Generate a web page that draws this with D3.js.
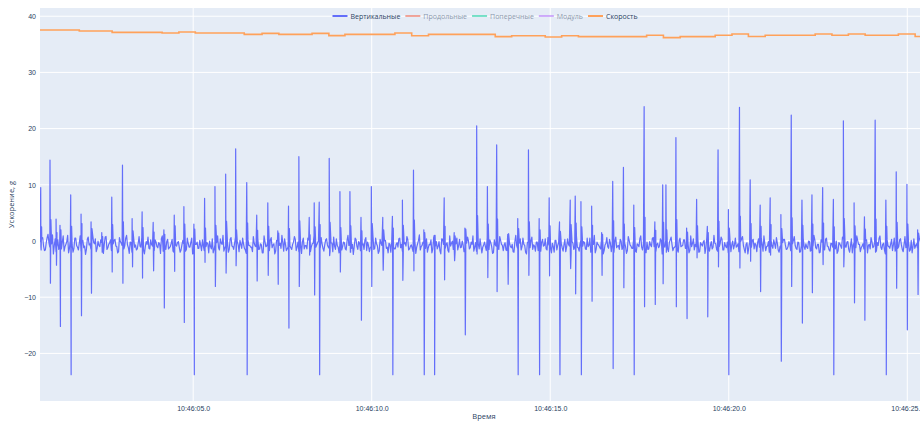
<!DOCTYPE html>
<html>
<head>
<meta charset="utf-8">
<script src="https://cdn.jsdelivr.net/npm/d3@7"></script>
<style>
  html, body { margin: 0; padding: 0; background: #fff; }
  svg { display: block; font-family: "Open Sans", verdana, arial, sans-serif; }
</style>
</head>
<body>
<svg id="chart" width="920" height="422"></svg>
<script>
// ---- data (seconds after 10:46:00) ----
const spikeT = [
  0.73, 0.99, 1.16, 1.27, 1.57, 1.86, 2.14, 2.44, 2.72, 3.02,
  3.29, 3.57, 3.88, 4.18, 4.47, 4.74, 5.02, 5.32, 5.61, 5.91,
  6.19, 6.50, 6.78, 7.09, 7.37, 7.67, 7.96, 8.25, 8.39, 8.53,
  8.81, 9.11, 9.39, 9.70, 9.99, 10.31, 10.58, 10.86, 11.17, 11.46,
  11.75, 12.03, 12.31, 12.61, 12.94, 13.24, 13.50, 13.81, 14.09, 14.39,
  14.69, 14.97, 15.26, 15.56, 15.70, 15.86, 16.16, 16.44, 16.75, 17.05,
  17.34, 17.63, 17.93, 18.15, 18.24, 18.52, 18.82, 19.10, 19.40, 19.70,
  19.99, 20.30, 20.60, 20.88, 21.16, 21.46, 21.75, 22.05, 22.33, 22.63,
  22.93, 23.21, 23.51, 23.80, 24.10, 24.40, 24.69, 24.99, 25.29
];
const spikeHi = [
  9.5, 14.4, 3.9, 2.8, 8.2, 4.8, 3.4, 1.5, 7.8, 13.5,
  4.0, 5.2, 3.3, 2.0, 4.6, 6.1, 3.0, 7.6, 9.7, 11.9,
  16.4, 10.4, 4.6, 6.8, 1.8, 6.2, 15.0, 4.2, 6.8, 6.9,
  14.7, 8.8, 8.8, 4.2, 9.7, 4.2, 4.4, 7.3, 12.6, 2.0,
  1.0, 7.7, 1.5, 2.3, 20.5, 9.7, 17.1, 1.2, 4.0, 16.2,
  4.0, 7.7, 3.4, 7.3, 8.0, 7.0, 6.2, 1.5, 10.6, 13.1,
  6.4, 23.9, 3.4, 10.0, 10.0, 18.4, 2.3, 7.4, 2.6, 16.2,
  5.6, 23.8, 10.9, 6.4, 7.7, 4.7, 22.4, 7.3, 8.2, 9.5,
  7.4, 21.4, 6.8, 4.3, 21.5, 7.3, 12.3, 10.1, 2.0
];
const spikeLo = [
  -1.6, -7.5, -4.3, -15.2, -23.8, -13.3, -9.3, -2.0, -5.5, -7.5,
  -4.6, -6.6, -5.3, -11.9, -5.4, -14.5, -23.8, -3.8, -8.1, -5.7,
  -4.4, -23.8, -7.1, -6.1, -7.7, -15.5, -8.1, -2.5, -9.6, -23.8,
  -2.6, -5.5, -2.0, -14.1, -8.1, -5.2, -23.8, -7.0, -5.3, -23.8,
  -23.8, -6.9, -3.5, -16.7, -2.3, -6.5, -9.0, -7.7, -23.8, -6.1,
  -23.8, -6.2, -23.8, -4.9, -9.4, -23.8, -10.7, -6.1, -22.7, -8.3,
  -23.8, -11.7, -11.3, -7.6, -2.0, -11.7, -13.8, -3.0, -13.5, -4.6,
  -23.8, -4.8, -3.6, -9.0, -2.5, -21.4, -8.1, -14.6, -9.2, -4.2,
  -23.8, -4.6, -11.0, -14.1, -2.0, -23.8, -8.4, -15.8, -9.5
];
const spikeRb = [
  2.5, 3.8, 1.5, 2.0, 2.6, 3.1, 2.2, 0.8, 2.9, 3.4,
  1.8, 2.4, 1.6, 1.2, 2.7, 3.0, 2.1, 2.3, 2.8, 3.5,
  2.0, 3.2, 1.9, 2.6, 1.4, 2.2, 3.6, 1.1, 2.5, 2.9,
  3.3, 2.4, 2.7, 1.8, 3.1, 2.0, 2.3, 2.8, 3.7, 1.5,
  1.0, 2.6, 0.9, 2.1, 4.5, 3.0, 3.9, 1.3, 2.2, 3.4,
  2.0, 2.7, 1.7, 2.9, 3.2, 2.5, 2.8, 1.2, 3.6, 3.0,
  2.4, 4.2, 1.9, 3.3, 2.0, 3.8, 1.6, 2.7, 1.5, 3.5,
  2.3, 4.4, 3.1, 2.6, 2.9, 2.2, 4.1, 2.8, 3.0, 3.2,
  2.5, 4.0, 2.7, 2.1, 3.9, 2.6, 3.3, 3.0, 1.4
];

// baseline samples, two interleaved runs every 0.05 s
const noiseStart = 0.71;
const noiseStep = 0.05;
const noise = [
  -0.2,0.4,-0.9,-1.6,0.6,-0.3,-1.2,1.1,-0.8,-1.9,0.2,-0.6,-1.4,0.9,-1.0,-0.1,-2.1,0.3,-0.7,-1.3,
  0.5,-1.1,-0.4,-1.8,0.1,-0.9,-1.5,0.7,-0.5,-2.0,-0.2,0.4,-1.3,-0.8,0.2,-1.6,-0.6,0.8,-1.2,-0.3,
  -1.7,-0.5,0.3,-1.0,-1.9,-0.1,-0.8,-1.4,0.5,-0.7,-2.2,-0.3,0.1,-1.1,-1.6,-0.4,-0.9,0.6,-1.5,-1.0,
  -0.6,-1.3,0.2,-0.9,-1.7,-0.2,-1.2,-0.5,0.4,-1.8,-0.8,-0.1,-1.4,-1.0,0.3,-2.0,-0.7,-0.3,-1.1,-1.6,
  0.1,-0.9,-1.5,-0.4,-1.1,0.5,-1.9,-0.6,-0.2,-1.3,-0.8,0.2,-1.7,-1.0,-0.5,0.0,-1.4,-2.1,-0.7,-0.3,
  -1.2,0.4,-0.6,-1.8,-0.9,-0.2,-1.5,0.6,-1.0,-0.4,-2.0,-0.7,0.1,-1.3,-0.5,-1.6,0.3,-0.8,-1.1,-1.9,
  -0.4,-1.0,0.5,-1.4,-0.7,-2.1,-0.1,-0.9,-1.6,0.2,-1.2,-0.5,-1.8,0.0,-0.8,-1.3,-0.3,0.4,-1.7,-1.0,
  -0.9,-1.5,-0.2,0.3,-1.1,-1.9,-0.6,-0.1,-1.4,-0.8,0.5,-1.6,-1.0,-0.4,-2.0,-0.7,0.1,-1.2,-0.5,-1.8,
  0.2,-0.7,-1.3,-0.3,-1.9,-0.9,0.4,-1.1,-0.5,-1.6,-0.2,-1.4,0.1,-0.8,-2.0,-0.6,-1.0,0.3,-1.5,-0.4,
  -1.1,-0.5,0.2,-1.7,-0.8,-1.2,-0.1,-1.5,0.5,-0.9,-1.8,-0.4,-0.7,0.0,-1.3,-2.1,-0.6,-0.2,-1.0,-1.4,
  -0.3,0.4,-1.2,-1.8,-0.5,-0.9,0.3,-1.4,-0.7,-1.9,-0.2,-1.1,0.1,-1.6,-0.8,-0.4,-1.3,-2.0,-0.6,0.2,
  -1.5,-0.8,-0.1,-1.0,-1.7,0.4,-0.6,-1.3,-0.3,-2.0,-0.9,0.0,-1.2,-0.5,-1.6,0.3,-1.1,-0.7,-1.9,-0.4,
  0.0,-1.2,-0.6,-1.8,-0.3,0.5,-1.4,-0.9,-1.1,-0.2,-1.7,-0.5,0.2,-1.0,-2.1,-0.7,-0.4,-1.5,0.1,-0.8,
  -0.7,-1.6,0.3,-0.4,-1.2,-1.9,-0.1,-0.8,-1.4,0.4,-1.0,-0.6,-2.0,-0.3,-1.1,0.0,-1.5,-0.9,-0.2,-1.7,
  -1.3,-0.2,-0.9,0.4,-1.6,-0.7,-1.1,-0.4,-2.0,0.1,-0.8,-1.4,-0.5,-1.8,0.3,-1.0,-0.6,-1.2,-0.1,-1.5,
  -0.5,-1.1,-1.8,0.2,-0.9,-0.3,-1.5,-1.0,0.5,-1.3,-0.6,-2.1,-0.2,-0.8,-1.4,0.0,-1.7,-0.4,-1.0,0.3,
  -1.9,-0.6,-0.1,-1.2,-0.8,0.3,-1.5,-0.4,-1.0,-1.7,0.1,-0.9,-1.3,-0.3,-2.0,-0.7,0.4,-1.1,-0.5,-1.6,
  -0.2,-1.4,-0.7,0.5,-1.0,-1.8,-0.4,-0.9,0.0,-1.5,-1.1,-0.3,-1.9,0.2,-0.6,-1.2,-0.8,-1.6,0.1,-1.0,
  -0.8,0.2,-1.3,-0.5,-1.7,-1.0,0.4,-0.6,-1.4,-2.0,-0.3,-0.9,0.1,-1.2,-0.7,-1.8,-0.1,-1.1,-0.4,-1.5,
  -1.0,-0.4,0.3,-1.6,-0.9,-0.2,-1.3,-1.9,0.0,-0.7,-1.1,-0.5,-1.5,0.4,-0.8,-2.1,-0.3,-1.2,-0.6,0.1,
  -1.4,-0.7,-0.2,-1.1,0.5,-1.8,-0.5,-1.0,-0.1,-1.6,-0.9,0.2,-1.3,-0.4,-2.0,-0.8,-0.3,0.3,-1.5,-1.0,
  -0.6,-1.2,0.1,-0.8,-1.5,-0.3,-1.9,0.4,-1.0,-0.5,-1.3,-0.1,-1.7,-0.9,0.2,-1.4,-0.6,-2.0,-0.2,-1.1,
  0.3,-0.9,-1.6,-0.4,-1.1,-0.7,0.0,-1.8,-0.5,-1.3,0.4,-1.0,-0.2,-1.5,-0.8,-2.1,-0.3,-1.2,0.1,-0.6,
  -1.2,-0.5,-1.7,0.2,-0.8,-1.4,-0.1,-1.0,-1.9,-0.3,0.5,-1.1,-0.6,-1.6,-0.2,-0.9,-1.3,0.3,-0.7,-1.8,
  -0.4,-1.0,0.4,-1.5,-0.6,-1.2,-0.2,-1.8,0.1,-0.9,-1.3,-0.5,-2.0,0.0,-0.7,-1.1,-0.3,-1.6,0.2,-0.8
];
const noise2 = [
  -1.0,0.6,-1.7,-0.3,1.2,-1.1,-0.5,-2.3,0.4,-0.9,-1.5,0.8,-0.2,-1.8,-0.6,1.0,-1.3,-0.4,-2.0,0.5,
  -0.8,-1.6,0.9,-0.1,-1.2,-2.4,0.3,-0.7,-1.4,1.1,-0.5,-1.9,0.0,-1.0,-0.3,-2.2,0.7,-1.5,-0.6,0.2,
  -1.3,0.1,-0.9,-2.1,0.6,-0.4,-1.6,-0.8,1.0,-1.2,-0.2,-2.0,0.4,-0.7,-1.4,0.8,-1.1,-0.5,-2.3,-0.1,
  0.7,-1.4,-0.6,-1.9,0.2,-1.0,-0.3,-2.2,0.9,-0.8,-1.5,0.3,-1.2,-0.4,-1.8,1.1,-0.9,-0.1,-2.0,-0.7,
  -0.5,-1.8,0.5,-1.1,-0.2,-2.3,0.8,-0.6,-1.3,0.1,-1.7,-0.9,0.6,-0.3,-2.1,-1.0,0.4,-1.5,-0.8,0.9,
  -1.6,-0.4,1.0,-1.2,-0.7,-2.0,0.3,-0.9,-1.5,0.7,-0.1,-1.9,-0.6,0.5,-1.3,-2.2,0.2,-0.8,-1.1,0.8,
  -0.9,0.4,-1.5,-0.5,-2.1,0.9,-1.0,-0.3,-1.7,0.6,-0.7,-2.3,0.1,-1.2,-0.4,1.0,-1.8,-0.6,-1.4,0.3,
  -1.2,-0.6,0.8,-1.7,-0.2,-1.0,-2.2,0.5,-0.8,-1.4,0.2,-1.9,-0.5,0.9,-1.1,-0.3,-2.0,0.6,-1.3,-0.7,
  0.4,-1.1,-1.8,-0.4,0.7,-1.5,-0.8,-2.1,0.2,-1.0,-0.3,-1.6,1.0,-0.7,-1.3,-2.4,0.5,-0.9,-0.1,-1.7,
  -0.7,-1.5,0.6,-0.2,-1.9,-1.0,0.9,-1.3,-0.5,-2.2,0.3,-0.8,-1.6,0.1,-1.1,-0.4,-2.0,0.8,-1.4,-0.6,
  -1.1,0.5,-0.6,-2.0,-0.3,0.8,-1.6,-0.9,-1.3,0.2,-2.2,-0.5,1.1,-1.0,-0.2,-1.8,0.4,-1.2,-0.7,-2.1,
  0.6,-0.9,-1.4,-0.1,-2.3,0.3,-1.1,-0.6,-1.7,0.9,-0.4,-1.5,-2.0,0.5,-0.8,-1.2,0.0,-1.9,-0.5,0.7,
  -1.4,-0.2,0.9,-1.1,-1.8,-0.5,0.4,-2.1,-0.7,-1.0,0.6,-1.5,-0.3,-2.2,0.2,-0.9,-1.3,0.8,-0.6,-1.7,
  -0.3,-1.7,0.2,-1.0,-0.6,-2.0,1.0,-1.3,-0.4,-1.6,0.5,-0.8,-2.3,-0.1,-1.2,0.7,-0.7,-1.8,-0.2,0.4,
  -1.8,0.3,-0.8,-1.4,0.6,-0.5,-2.1,-1.0,0.1,-1.6,-0.3,0.9,-1.2,-0.7,-1.9,0.4,-0.9,-2.2,-0.4,-1.1,
  0.8,-1.2,-0.5,-1.9,-0.1,-1.4,0.5,-0.8,-2.0,-0.3,1.0,-1.5,-0.6,-1.1,0.2,-2.3,-0.7,0.6,-1.3,-0.4,
  -0.6,-2.0,0.7,-0.9,-1.5,0.0,-1.1,-0.4,-2.2,0.8,-0.7,-1.3,0.3,-1.8,-0.5,-1.0,0.9,-1.6,-0.2,-2.1,
  -1.5,-0.1,-1.0,0.6,-1.9,-0.6,-1.2,0.4,-2.3,-0.8,0.1,-1.4,-0.3,0.7,-1.7,-1.1,-0.5,-2.0,0.5,-0.9,
  0.2,-1.3,-0.7,-2.1,0.9,-0.4,-1.6,-1.0,0.3,-1.9,-0.6,-0.2,-2.2,0.6,-1.1,-0.8,-1.4,1.0,-0.5,-1.8,
  -1.0,0.7,-1.6,-0.3,-1.2,-2.1,0.2,-0.7,-1.4,0.5,-0.9,-1.9,-0.1,0.8,-1.5,-0.6,-2.3,-0.2,-1.1,0.3,
  -0.4,-1.9,0.4,-1.1,-0.6,0.9,-1.7,-0.9,-2.0,0.1,-1.3,-0.5,0.6,-1.6,-1.0,-2.2,0.3,-0.7,-1.4,-0.1,
  -1.7,-0.5,0.8,-1.3,-0.2,-2.0,-0.8,0.5,-1.5,-1.1,0.0,-1.8,-0.4,1.0,-1.2,-0.6,-2.1,0.2,-0.9,-1.6,
  0.5,-1.0,-1.8,-0.5,0.3,-1.4,-2.2,-0.3,-0.9,0.7,-1.6,-1.1,-0.1,-2.0,0.4,-0.7,-1.3,0.9,-0.6,-1.9,
  -0.9,-1.4,0.1,-2.1,-0.6,0.6,-1.2,-0.2,-1.8,-0.8,0.9,-1.5,-0.4,-2.3,0.2,-1.0,-0.5,-1.7,0.5,-1.2,
  -1.3,0.2,-0.7,-1.9,0.8,-1.0,-0.3,-1.6,-2.1,0.4,-0.8,-1.2,0.6,-0.5,-1.7,-0.9,0.1,-2.0,-0.4,-1.1
];

// speed (step changes)
const speedT = [
  0.71, 1.81, 2.73, 4.13, 4.60, 5.06, 6.43, 6.93, 7.40, 8.33,
  8.80, 9.25, 10.65, 11.12, 11.59, 13.46, 13.92, 14.86, 15.32, 15.79,
  17.70, 18.17, 18.64, 19.62, 20.09, 20.55, 21.02, 22.42, 22.89, 23.35,
  23.82, 24.75, 25.22, 25.60
];
const speedV = [
  37.54, 37.37, 37.13, 37.01, 37.19, 37.01, 36.77, 36.95, 36.77, 36.95,
  36.55, 36.77, 37.00, 36.53, 36.77, 36.36, 36.53, 36.30, 36.53, 36.36,
  36.60, 36.18, 36.36, 36.60, 36.83, 36.40, 36.60, 36.83, 36.60, 36.83,
  36.60, 36.83, 36.40, 36.40
];

const legendItems = [
  { name: "Вертикальные", color: "#636efa", visible: true },
  { name: "Продольные", color: "#EF553B", visible: false },
  { name: "Поперечные", color: "#00cc96", visible: false },
  { name: "Модуль", color: "#ab63fa", visible: false },
  { name: "Скорость", color: "#FFA15A", visible: true },
];
const xDomainSec = [0.71, 25.58];
const yDomain = [-28.47, 41.46];
const yTicks = [-20, -10, 0, 10, 20, 30, 40];

// ---- build ----
const base = new Date(2024, 0, 1, 10, 46, 0).getTime();
const toDate = (s) => new Date(base + s * 1000);

const accel = [];
noise.forEach((v, i) => accel.push({ t: noiseStart + i * noiseStep, v }));
noise2.forEach((v, i) => accel.push({ t: noiseStart + noiseStep / 2 + i * noiseStep, v }));
spikeT.forEach((t, i) => {
  accel.push({ t: t, v: spikeHi[i] });
  accel.push({ t: t + 0.012, v: spikeLo[i] });
  accel.push({ t: t + 0.025, v: spikeRb[i] });
});
accel.sort((a, b) => a.t - b.t);
const speed = speedT.map((t, i) => ({ t, v: speedV[i] }));

const svg = d3.select("#chart");
const margin = { top: 8, left: 40 };
const plotW = 888, plotH = 393;
const textColor = "#2a3f5f";

const x = d3.scaleTime().domain(xDomainSec.map(toDate)).range([0, plotW]);
const y = d3.scaleLinear().domain(yDomain).range([plotH, 0]);

const g = svg.append("g").attr("transform", `translate(${margin.left},${margin.top})`);

g.append("rect").attr("width", plotW).attr("height", plotH).attr("fill", "#E5ECF6");

svg.append("defs").append("clipPath").attr("id", "clip")
  .append("rect").attr("width", plotW).attr("height", plotH);

// grid
const xTicks = d3.timeSecond.every(5).range(x.domain()[0], x.domain()[1]);
g.append("g").selectAll("line").data(xTicks).join("line")
  .attr("x1", (d) => x(d)).attr("x2", (d) => x(d))
  .attr("y1", 0).attr("y2", plotH)
  .attr("stroke", "#fff").attr("stroke-width", 1);
g.append("g").selectAll("line").data(yTicks).join("line")
  .attr("x1", 0).attr("x2", plotW)
  .attr("y1", (d) => y(d)).attr("y2", (d) => y(d))
  .attr("stroke", "#fff").attr("stroke-width", (d) => (d === 0 ? 2 : 1));

// axes
const fmt = (d) => d3.timeFormat("%H:%M:%S")(d) + "." + Math.floor(d.getMilliseconds() / 100);
g.append("g")
  .attr("transform", `translate(0,${plotH})`)
  .call(d3.axisBottom(x).tickValues(xTicks).tickFormat(fmt).tickSize(0).tickPadding(5))
  .call((a) => a.select(".domain").remove())
  .call((a) => a.selectAll("text").attr("fill", textColor).style("font-size", "7px"));

g.append("g")
  .call(d3.axisLeft(y).tickValues(yTicks).tickSize(0).tickPadding(4))
  .call((a) => a.select(".domain").remove())
  .call((a) => a.selectAll("text").attr("fill", textColor).style("font-size", "7px"));

svg.append("text")
  .attr("transform", `translate(14,${margin.top + plotH / 2}) rotate(-90)`)
  .attr("text-anchor", "middle")
  .attr("fill", textColor).style("font-size", "7.5px")
  .text("Ускорение, g");

svg.append("text")
  .attr("x", margin.left + plotW / 2).attr("y", 419)
  .attr("text-anchor", "middle")
  .attr("fill", textColor).style("font-size", "7.5px")
  .text("Время");

// lines
const line = d3.line().x((d) => x(toDate(d.t))).y((d) => y(d.v));
const plot = g.append("g").attr("clip-path", "url(#clip)");

plot.append("path").datum(accel)
  .attr("fill", "none").attr("stroke", "#636efa")
  .attr("stroke-width", 1.2).attr("stroke-linejoin", "round")
  .attr("d", line);

plot.append("path").datum(speed)
  .attr("fill", "none").attr("stroke", "#FFA15A")
  .attr("stroke-width", 1.6)
  .attr("d", line.curve(d3.curveStepAfter));

// legend
const leg = svg.append("g");
let lx = 0;
legendItems.forEach((it) => {
  const gi = leg.append("g").attr("opacity", it.visible ? 1 : 0.5);
  gi.append("line").attr("x1", 0).attr("x2", 15).attr("y1", 0).attr("y2", 0)
    .attr("stroke", it.color).attr("stroke-width", 2);
  const tx = gi.append("text").attr("x", 18).attr("y", 2.5)
    .attr("fill", textColor).style("font-size", "7px").text(it.name);
  const w = 18 + tx.node().getComputedTextLength();
  gi.attr("transform", `translate(${lx},0)`);
  lx += w + 5;
});
const legW = lx - 5;
leg.attr("transform", `translate(${485 - legW / 2},16)`);
</script>
</body>
</html>
